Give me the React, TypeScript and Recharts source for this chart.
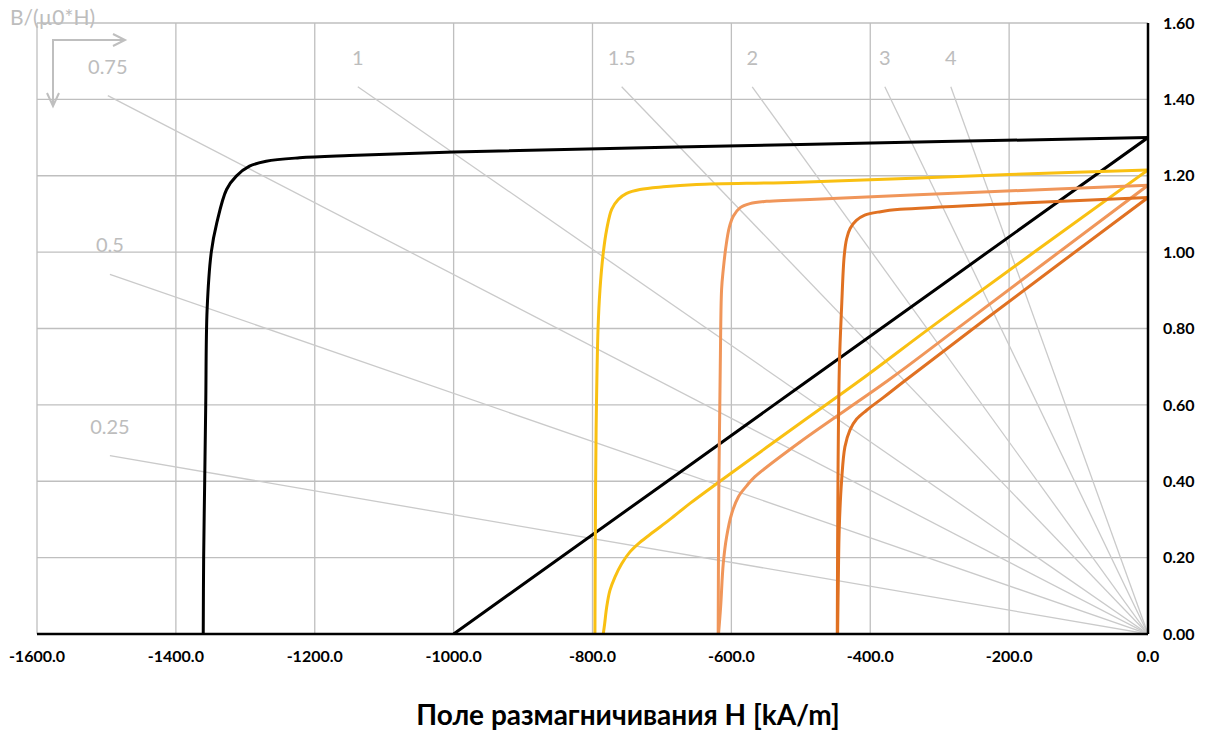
import React from "react";
import { CartesianGrid, Line, LineChart, ReferenceDot, XAxis, YAxis } from "recharts";

const FONT = "Lato, 'Open Sans', 'DejaVu Sans', sans-serif";

const COLORS = {
  black: "#000000",
  gold: "#F9C012",
  orange: "#F0965A",
  darkOrange: "#E07122",
  grid: "#BFBFBF",
  load: "#CACACA",
  note: "#BDBDBD",
};

const H_TICKS = [-1600, -1400, -1200, -1000, -800, -600, -400, -200, 0];
const B_TICKS = [0, 0.2, 0.4, 0.6, 0.8, 1.0, 1.2, 1.4, 1.6];

// [H kA/m, B T]
const blackJ = [
  [-1360.6, 0], [-1360, 0.2], [-1358.5, 0.4], [-1357, 0.6], [-1355, 0.85], [-1349, 1.0],
  [-1341, 1.077], [-1327, 1.164], [-1313, 1.199], [-1294, 1.225], [-1270, 1.238],
  [-1222, 1.247], [-1150, 1.253], [-1000, 1.262], [-500, 1.282], [0, 1.3],
];
const blackB = [[-1000, 0], [-500, 0.65], [0, 1.3]];

const goldJ = [
  [-796.5, 0], [-795.5, 0.4], [-794.3, 0.6], [-792, 0.8], [-789.3, 0.9], [-784.5, 0.998],
  [-779.6, 1.059], [-772.4, 1.112], [-762.9, 1.138], [-750.8, 1.154], [-731.7, 1.164],
  [-698, 1.171], [-650, 1.177], [-501, 1.183], [-200, 1.203], [0, 1.215],
];
const goldB = [
  [-784.5, 0], [-782.5, 0.027], [-779.6, 0.07], [-774.9, 0.114], [-767.7, 0.149], [-758, 0.184],
  [-746, 0.215], [-731.7, 0.24], [-712.5, 0.267], [-688.5, 0.3], [-659.6, 0.342],
  [-616.4, 0.4], [-501, 0.552], [-412.5, 0.667], [-300, 0.82], [0, 1.215],
];

const orangeJ = [
  [-619, 0], [-618, 0.4], [-616, 0.7], [-614.1, 0.902], [-611.7, 0.954], [-607.8, 1.015],
  [-603.1, 1.064], [-597.3, 1.094], [-587.7, 1.116], [-573.3, 1.127], [-549.2, 1.133],
  [-515.7, 1.136], [-486.9, 1.138], [-271, 1.155], [0, 1.175],
];
const orangeB = [
  [-618.5, 0], [-615.5, 0.07], [-611.7, 0.184], [-606.9, 0.254], [-599.6, 0.315], [-590, 0.359],
  [-578, 0.388], [-566, 0.412], [-501, 0.503], [-372, 0.667], [-271, 0.805], [0, 1.175],
];

const darkJ = [
  [-447.5, 0], [-446.5, 0.4], [-444.5, 0.7], [-441.2, 0.858], [-437.5, 0.99], [-434, 1.035],
  [-429, 1.062], [-420, 1.083], [-408, 1.097], [-385, 1.106], [-357, 1.112], [-200, 1.127],
  [0, 1.143],
];
const darkB = [
  [-447, 0], [-446, 0.14], [-444.6, 0.28], [-441.2, 0.403], [-436.5, 0.49], [-429.3, 0.534],
  [-419.6, 0.563], [-405.2, 0.586], [-381.3, 0.619], [-352.5, 0.66], [-235, 0.823], [0, 1.143],
];

// permeance lines B/(µ0*H), from the origin to the end
const LOAD_LABELS = ["0.25", "0.5", "0.75", "1", "1.5", "2", "3", "4"];
const LOAD_END_H = [-1495, -1495, -1498, -1138, -758, -570, -379, -284];
const LOAD_END_B = [0.467, 0.942, 1.41, 1.433, 1.433, 1.433, 1.433, 1.433];

const pts = (arr: number[][]) => arr.map(([h, b]) => ({ h, b }));

// centripetal Catmull-Rom, smooth through every point without kinks
function catmull(context: any) {
  let p: number[][] = [];
  return {
    areaStart() {},
    areaEnd() {},
    lineStart() {
      p = [];
    },
    point(x: number, y: number) {
      p.push([+x, +y]);
    },
    lineEnd() {
      if (!p.length) return;
      context.moveTo(p[0][0], p[0][1]);
      const len = (a: number[], b: number[]) => Math.sqrt(Math.hypot(a[0] - b[0], a[1] - b[1]));
      for (let i = 0; i < p.length - 1; i++) {
        const p0 = p[i - 1] || p[i];
        const p1 = p[i];
        const p2 = p[i + 1];
        const p3 = p[i + 2] || p2;
        const l01 = len(p0, p1), l12 = len(p1, p2), l23 = len(p2, p3);
        let c1 = [p1[0], p1[1]];
        let c2 = [p2[0], p2[1]];
        if (l01 > 1e-9) {
          const a = 2 * l01 * l01 + 3 * l01 * l12 + l12 * l12;
          const n = 3 * l01 * (l01 + l12);
          c1 = [0, 1].map((k) => (p1[k] * a - p0[k] * l12 * l12 + p2[k] * l01 * l01) / n);
        }
        if (l23 > 1e-9) {
          const b = 2 * l23 * l23 + 3 * l23 * l12 + l12 * l12;
          const m = 3 * l23 * (l23 + l12);
          c2 = [0, 1].map((k) => (p2[k] * b + p1[k] * l23 * l23 - p3[k] * l12 * l12) / m);
        }
        context.bezierCurveTo(c1[0], c1[1], c2[0], c2[1], p2[0], p2[1]);
      }
    },
  };
}

const curves = [
  { key: "blackJ", data: pts(blackJ), color: COLORS.black },
  { key: "blackB", data: pts(blackB), color: COLORS.black },
  { key: "goldJ", data: pts(goldJ), color: COLORS.gold },
  { key: "goldB", data: pts(goldB), color: COLORS.gold },
  { key: "orangeJ", data: pts(orangeJ), color: COLORS.orange },
  { key: "orangeB", data: pts(orangeB), color: COLORS.orange },
  { key: "darkJ", data: pts(darkJ), color: COLORS.darkOrange },
  { key: "darkB", data: pts(darkB), color: COLORS.darkOrange },
];

const loadLines = LOAD_LABELS.map((label, i) => ({
  label,
  data: [{ h: 0, b: 0 }, { h: LOAD_END_H[i], b: LOAD_END_B[i] }],
}));

export default function App() {
  return (
    <div style={{ position: "absolute", left: 0, top: 0, width: 1205, height: 733, background: "#fff" }}>
      <svg width={1205} height={733} style={{ position: "absolute", left: 0, top: 0 }}>
        <text x={10} y={25} fontFamily={FONT} fontSize={21} fill={COLORS.note}>
          B/(µ0*H)
        </text>
      </svg>
      <div style={{ position: "absolute", left: 0, top: 0 }}>
        <LineChart width={1205} height={733} margin={{ top: 23, right: 7, bottom: 0, left: 37 }}>
          <CartesianGrid stroke={COLORS.grid} strokeWidth={1.3} />
          <XAxis
            type="number"
            dataKey="h"
            domain={[-1600, 0]}
            ticks={H_TICKS}
            allowDataOverflow
            height={99}
            tickLine={false}
            tickSize={6}
            tickMargin={11}
            axisLine={{ stroke: "#000", strokeWidth: 2.5 }}
            tick={{ fontFamily: FONT, fontSize: 16, fontWeight: 700, fill: "#000" }}
            tickFormatter={(v: number) => v.toFixed(1)}
          />
          <YAxis
            type="number"
            orientation="right"
            domain={[0, 1.6]}
            ticks={B_TICKS}
            allowDataOverflow
            width={50}
            tickLine={false}
            tickSize={6}
            tickMargin={9}
            axisLine={{ stroke: "#000", strokeWidth: 2.5 }}
            tick={{ fontFamily: FONT, fontSize: 16, fontWeight: 700, fill: "#000", textAnchor: "start" }}
            tickFormatter={(v: number) => v.toFixed(2)}
          />
          {loadLines.map((l) => (
            <Line
              key={"load" + l.label}
              data={l.data}
              dataKey="b"
              type="linear"
              stroke={COLORS.load}
              strokeWidth={1.3}
              dot={false}
              activeDot={false}
              isAnimationActive={false}
            />
          ))}
          {curves.map((c) => (
            <Line
              key={c.key}
              data={c.data}
              dataKey="b"
              type={catmull as any}
              stroke={c.color}
              strokeWidth={3}
              dot={false}
              activeDot={false}
              isAnimationActive={false}
            />
          ))}
          {loadLines.map((l) => (
            <ReferenceDot
              key={"lbl" + l.label}
              x={l.data[1].h}
              y={l.data[1].b}
              r={0}
              fill="none"
              stroke="none"
              label={{
                content: (p: any) => (
                  <text
                    x={p.viewBox.x}
                    y={p.viewBox.y - 30}
                    textAnchor="middle"
                    dominantBaseline="central"
                    fontFamily={FONT}
                    fontSize={20}
                    fill={COLORS.note}
                  >
                    {l.label}
                  </text>
                ),
              }}
            />
          ))}
        </LineChart>
      </div>
      <svg width={1205} height={733} style={{ position: "absolute", left: 0, top: 0, pointerEvents: "none" }}>
        <g stroke={COLORS.grid} strokeWidth={2} fill="none">
          <polyline points="53,106 53,40 125,40" />
          <polyline points="113,34 125,40 113,46" />
          <polyline points="47,93 53,106 59,93" />
        </g>
        <text
          x={628}
          y={714}
          textAnchor="middle"
          dominantBaseline="central"
          fontFamily={FONT}
          fontSize={28}
          fontWeight={700}
          fill="#000"
        >
          Поле размагничивания H [kA/m]
        </text>
      </svg>
    </div>
  );
}
